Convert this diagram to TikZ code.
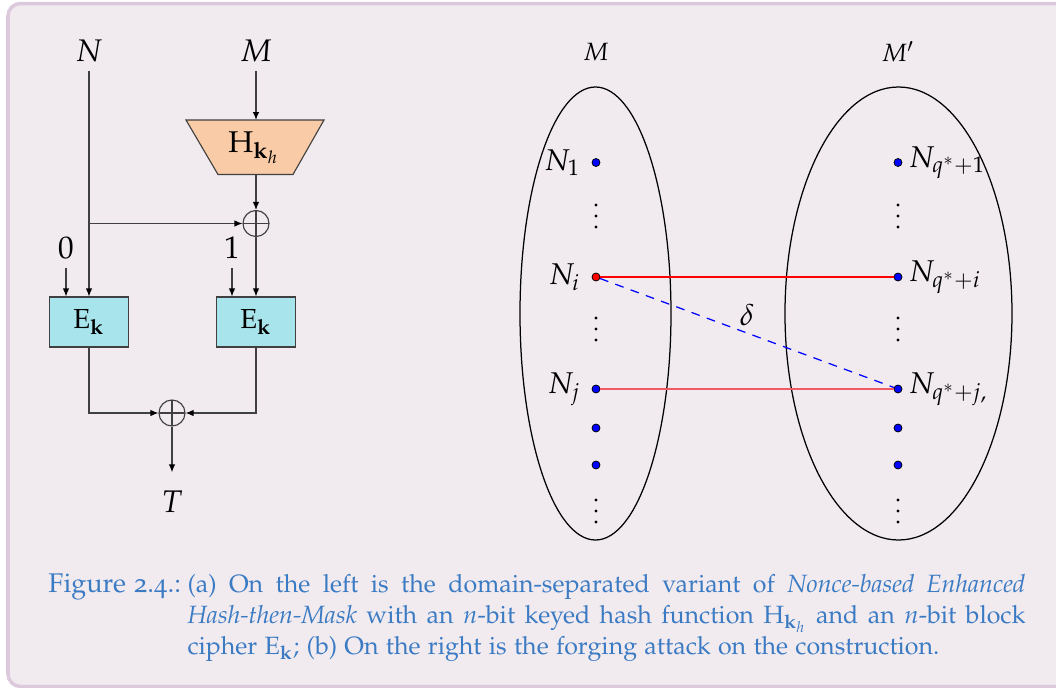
\documentclass[tikz,border=0pt]{standalone}
\usepackage[T1]{fontenc}
\usepackage[osf]{mathpazo}
\usetikzlibrary{arrows.meta,calc}
\definecolor{bgfill}{HTML}{F1EBF0}
\definecolor{bgline}{HTML}{DCCADC}
\definecolor{peach}{HTML}{F9CBA6}
\definecolor{cyanbox}{HTML}{A8E4EB}
\definecolor{capblue}{HTML}{3B7BC3}
\definecolor{wire}{HTML}{404040}
\definecolor{softred}{HTML}{F05A64}
\begin{document}
\begin{tikzpicture}[x=0.4pt,y=-0.4pt,
  wirel/.style={draw=wire, line width=0.45pt},
  arr/.style={wirel, -{Latex[length=3.2pt,width=2.6pt,color=black]}},
  lab/.style={font=\fontsize{12.5}{14}\selectfont},
  ebox/.style={draw=wire, fill=cyanbox, line width=0.45pt, minimum width=31.6pt, minimum height=20pt, inner sep=0pt, font=\fontsize{11}{13}\selectfont},
  xorop/.style={circle, draw=wire, line width=0.45pt, minimum size=10.4pt, inner sep=0pt,
    path picture={\draw[wire, line width=0.45pt] (path picture bounding box.north) -- (path picture bounding box.south) (path picture bounding box.west) -- (path picture bounding box.east);}},
  bdot/.style={circle, draw=black, fill=blue, line width=0.3pt, minimum size=3.2pt, inner sep=0pt},
  rdot/.style={bdot, fill=red},
  vdot/.style={circle, fill=black, minimum size=1.3pt, inner sep=0pt},
  setlab/.style={font=\fontsize{12}{14}\selectfont},
  llab/.style={label={[setlab, label distance=1pt]left:#1}},
  rlab/.style={label={[setlab, label distance=-1pt]right:#1}},
  captext/.style={anchor=base west, inner sep=0pt, text=capblue, font=\fontsize{10}{12.4}\selectfont},
]
\useasboundingbox (0,0) rectangle (1056,688);
\draw[bgline, fill=bgfill, line width=1.4pt, rounded corners=5pt] (8,3.5) rectangle (1080,686.5);

% ---------- left: construction ----------
\node[lab] (Nl) at (89,51) {$N$};
\node[lab] (Ml) at (256,51) {$M$};
\filldraw[draw=wire, fill=peach, line width=0.45pt] (186,120) -- (324,120) -- (293,174.5) -- (218,174.5) -- cycle;
\node[font=\fontsize{12}{14}\selectfont] (H) at (254,148) {$\mathrm{H}_{\mathbf{k}_h}$};
\coordinate (Htop) at (256,120);
\coordinate (Hbot) at (256,174.5);
\node[xorop] (X1) at (256,223.5) {};
\node[lab] (zero) at (66,248) {$0$};
\node[lab] (one) at (232,248) {$1$};
\node[ebox] (E1) at (89,322) {$\mathrm{E}_{\mathbf{k}}$};
\node[ebox] (E2) at (256,322) {$\mathrm{E}_{\mathbf{k}}$};
\node[xorop] (X2) at (172,413) {};
\node[lab] (T) at (172,502) {$T$};

\draw[arr] (Ml.south) -- (Htop);
\draw[arr] (Hbot) -- (X1.north);
\draw[arr] (Nl.south) -- (Nl.south |- E1.north);
\draw[arr] (Nl.south |- X1.west) -- (X1.west);
\draw[arr] (X1.south) -- (X1.south |- E2.north);
\draw[arr] (zero.south) -- (zero.south |- E1.north);
\draw[arr] (one.south) -- (one.south |- E2.north);
\draw[arr] (E1.south) |- (X2.west);
\draw[arr] (E2.south) |- (X2.east);
\draw[arr] (X2.south) -- ($(T.north)+(0,-10)$);

% ---------- right: forging attack ----------
\draw[line width=0.5pt] (595.5,313.5) ellipse [x radius=75.5, y radius=226.5];
\draw[line width=0.5pt] (898.5,313.5) ellipse [x radius=113.5, y radius=226.5];
\node[font=\fontsize{10}{12}\selectfont] (Mset) at (596,52) {$M$};
\node[font=\fontsize{10}{12}\selectfont] (Mpset) at (898,52) {$M'$};

\node[bdot, llab={$N_1$}] (L1) at (596,162.5) {};
\node[rdot, llab={$N_i$}] (Li) at (596,277) {};
\node[bdot, llab={$N_j$}] (Lj) at (596,389) {};
\node[bdot] (La) at (596,428) {};
\node[bdot] (Lb) at (596,465) {};
\node[bdot, rlab={$N_{q^*+1}$}] (R1) at (898,162.5) {};
\node[bdot, rlab={$N_{q^*+i}$}] (Ri) at (898,277) {};
\node[bdot, rlab={$N_{q^*+j,}$}] (Rj) at (898,389) {};
\node[bdot] (Ra) at (898,428) {};
\node[bdot] (Rb) at (898,465) {};

\foreach \cx in {596,898}{
  \foreach \cy in {216,329,511}{
    \node[vdot] at (\cx,\cy-11) {};
    \node[vdot] at (\cx,\cy) {};
    \node[vdot] at (\cx,\cy+11) {};
  }
}

\draw[red, line width=0.6pt] (Li) -- (Ri);
\draw[softred, line width=0.8pt] (Lj) -- (Rj);
\draw[blue, line width=0.5pt, dash pattern=on 3.5pt off 3pt] (Li) -- (Rj);
\node[setlab] (delta) at (747,315) {$\delta$};

% ---------- caption ----------
\node[captext, font=\fontsize{10.8}{12.4}\selectfont] (caplabel) at (48,592) {Figure 2.4.:};
\node[captext] (capbody) at (187,592)
{\parbox[t]{335.2pt}{\noindent(a) On the left is the domain-separated variant of \textit{Nonce-based Enhanced}\linebreak
\textit{Hash-then-Mask} with an $n$-bit keyed hash function $\mathrm{H}_{\mathbf{k}_h}$ and an $n$-bit block\linebreak
cipher $\mathrm{E}_{\mathbf{k}}$; (b) On the right is the forging attack on the construction.}};
\end{tikzpicture}
\end{document}
